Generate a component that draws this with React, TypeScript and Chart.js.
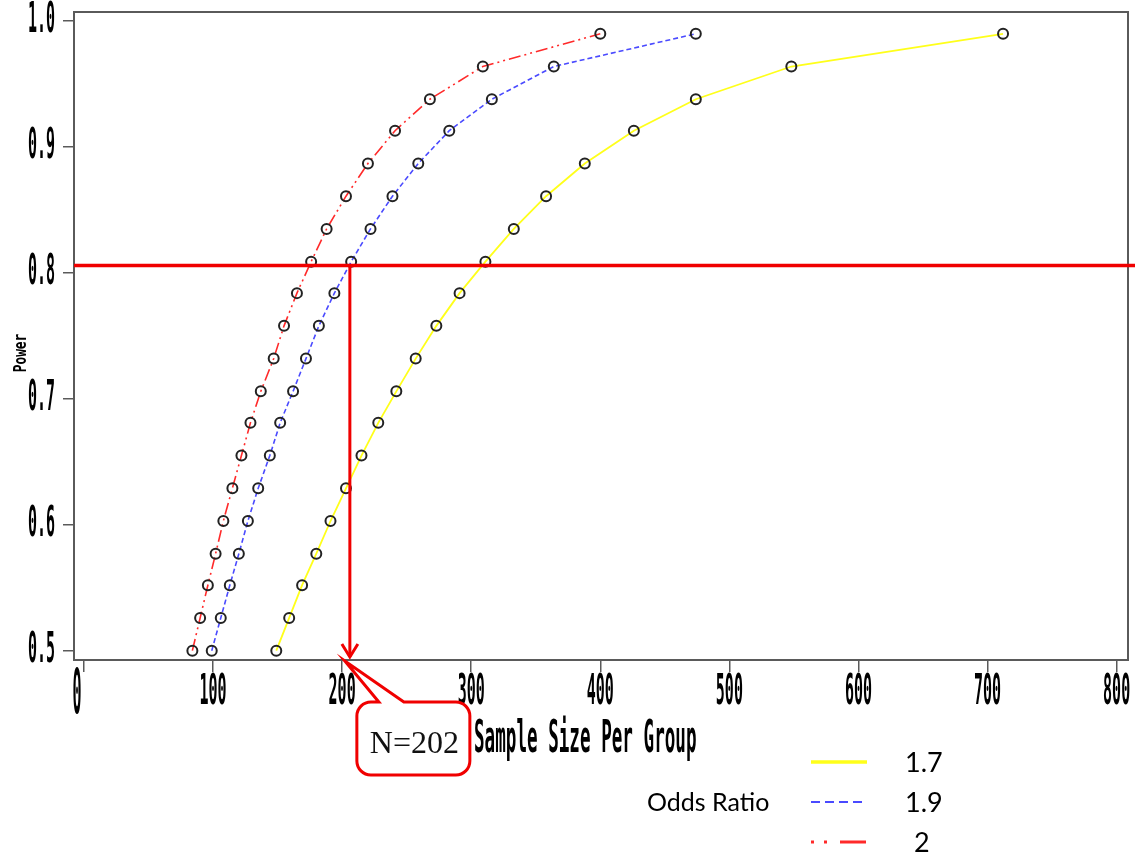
import React, { useEffect, useRef } from "react";
import { Chart, registerables } from "chart.js";

Chart.register(...registerables);

// ---- data ----
const POWER = [0.5, 0.526, 0.552, 0.577, 0.603, 0.629, 0.655, 0.681, 0.706, 0.732, 0.758, 0.784, 0.809, 0.835, 0.861, 0.887, 0.913, 0.938, 0.964, 0.99];
const N_OR_17 = [149, 159, 169, 180, 191, 203, 215, 228, 242, 257, 273, 291, 311, 333, 358, 388, 426, 474, 548, 712];
const N_OR_19 = [99, 106, 113, 120, 127, 135, 144, 152, 162, 172, 182, 194, 207, 222, 239, 259, 283, 316, 364, 474];
const N_OR_20 = [84, 90, 96, 102, 108, 115, 122, 129, 137, 147, 155, 165, 176, 188, 203, 220, 241, 268, 309, 400];
const ODDS_RATIOS = ["1.7", "1.9", "2"];

const X_TICKS = [0, 100, 200, 300, 400, 500, 600, 700, 800];
const X_TICK_LABELS = ["0", "100", "200", "300", "400", "500", "600", "700", "800"];
const Y_TICKS = [0.5, 0.6, 0.7, 0.8, 0.9, 1.0];
const Y_TICK_LABELS = ["0.5", "0.6", "0.7", "0.8", "0.9", "1.0"];

const REF_POWER = 0.806;
const REF_N = 206;
const REF_LABEL = "N=202";
const X_TITLE = "Sample Size Per Group";
const Y_TITLE = "Power";
const LEGEND_TITLE = "Odds Ratio";

const COLORS = ["#ffff1a", "#4a4aff", "#ff2a2a"];
const DASHES: number[][] = [[], [5, 3], [12, 4, 2, 4, 2, 4]];

const W = 1135;
const H = 862;

function condText(
  ctx: CanvasRenderingContext2D,
  text: string,
  x: number,
  y: number,
  size: number,
  sx: number,
  sy: number,
  align: CanvasTextAlign
) {
  ctx.save();
  ctx.translate(x, y);
  ctx.scale(sx, sy);
  ctx.font = `bold ${size}px "DejaVu Sans Mono"`;
  ctx.textAlign = align;
  ctx.textBaseline = "alphabetic";
  ctx.fillStyle = "#000";
  ctx.fillText(text, 0, 0);
  ctx.restore();
}

const decorPlugin = {
  id: "decor",
  beforeDatasetsDraw(chart: any) {
    const ctx: CanvasRenderingContext2D = chart.ctx;
    const { left, top, right, bottom } = chart.chartArea;
    ctx.save();
    ctx.strokeStyle = "#5a5a5a";
    ctx.lineWidth = 2;
    ctx.strokeRect(left, top, right - left, bottom - top);
    ctx.restore();
  },
  afterDraw(chart: any) {
    const ctx: CanvasRenderingContext2D = chart.ctx;
    const xs = chart.scales.x;
    const ys = chart.scales.y;
    const { left, bottom } = chart.chartArea;

    // tick labels
    Y_TICKS.forEach((v, i) => {
      const y = ys.getPixelForValue(v);
      condText(ctx, Y_TICK_LABELS[i], 55, y + 11, 30, 0.5, 1.4, "right");
    });
    X_TICKS.forEach((v, i) => {
      const x = xs.getPixelForValue(v);
      if (X_TICK_LABELS[i] === "0") {
        condText(ctx, X_TICK_LABELS[i], x - 7, 713, 30, 0.5, 2.1, "center");
      } else {
        condText(ctx, X_TICK_LABELS[i], x, 704, 30, 0.5, 1.4, "center");
      }
    });

    // axis titles
    condText(ctx, X_TITLE, 474, 752, 32, 0.55, 1.4, "left");
    ctx.save();
    ctx.translate(26, 353);
    ctx.rotate(-Math.PI / 2);
    ctx.scale(0.8, 1.15);
    ctx.font = 'bold 16px "DejaVu Sans Mono"';
    ctx.textAlign = "center";
    ctx.textBaseline = "alphabetic";
    ctx.fillStyle = "#000";
    ctx.fillText(Y_TITLE, 0, 0);
    ctx.restore();

    // reference lines
    const yr = ys.getPixelForValue(REF_POWER);
    const xr = xs.getPixelForValue(REF_N);
    ctx.save();
    ctx.strokeStyle = "#f00000";
    ctx.lineWidth = 3.5;
    ctx.beginPath();
    ctx.moveTo(left, yr);
    ctx.lineTo(W, yr);
    ctx.stroke();
    ctx.lineWidth = 3;
    ctx.beginPath();
    ctx.moveTo(xr, yr);
    ctx.lineTo(xr, bottom - 3);
    ctx.stroke();
    ctx.beginPath();
    ctx.moveTo(xr - 8, bottom - 16);
    ctx.lineTo(xr, bottom - 3);
    ctx.lineTo(xr + 8, bottom - 16);
    ctx.stroke();

    // callout
    const bl = xr + 7, br = xr + 120, bt = 702, bb = 775, r = 14;
    const tipX = xr - 5, tipY = bottom + 1;
    ctx.beginPath();
    ctx.moveTo(bl + r, bt);
    ctx.lineTo(xr + 29, bt);
    ctx.lineTo(tipX, tipY);
    ctx.lineTo(xr + 54, bt);
    ctx.lineTo(br - r, bt);
    ctx.arcTo(br, bt, br, bt + r, r);
    ctx.lineTo(br, bb - r);
    ctx.arcTo(br, bb, br - r, bb, r);
    ctx.lineTo(bl + r, bb);
    ctx.arcTo(bl, bb, bl, bb - r, r);
    ctx.lineTo(bl, bt + r);
    ctx.arcTo(bl, bt, bl + r, bt, r);
    ctx.closePath();
    ctx.fillStyle = "#fff";
    ctx.fill();
    ctx.lineWidth = 3;
    ctx.lineJoin = "miter";
    ctx.stroke();
    ctx.font = '32px "Liberation Serif"';
    ctx.fillStyle = "#111";
    ctx.textAlign = "left";
    ctx.textBaseline = "alphabetic";
    ctx.fillText(REF_LABEL, xr + 20, 753);
    ctx.restore();

    // legend
    ctx.save();
    ctx.fillStyle = "#000";
    ctx.font = '25px "Lato"';
    ctx.textAlign = "left";
    ctx.textBaseline = "middle";
    ctx.fillText(LEGEND_TITLE, 647, 803);
    const ly = [762, 802, 842];
    const legDash: number[][] = [[], [9, 5], [3, 10, 3, 13, 26]];
    const legW = [3.5, 2, 3];
    const labelX = [905, 905, 914];
    ly.forEach((y, i) => {
      ctx.strokeStyle = COLORS[i];
      ctx.lineWidth = legW[i];
      ctx.setLineDash(legDash[i]);
      ctx.beginPath();
      ctx.moveTo(811, y);
      ctx.lineTo(867, y);
      ctx.stroke();
      ctx.setLineDash([]);
      ctx.font = '27px "Lato"';
      ctx.fillText(ODDS_RATIOS[i], labelX[i], y + 1);
    });
    ctx.restore();
  },
};

export default function App() {
  const ref = useRef<HTMLCanvasElement | null>(null);

  useEffect(() => {
    if (!ref.current) return;
    const series = [N_OR_17, N_OR_19, N_OR_20];
    const chart = new Chart(ref.current, {
      type: "line",
      data: {
        datasets: series.map((ns, i) => ({
          label: ODDS_RATIOS[i],
          data: ns.map((n, k) => ({ x: n, y: POWER[k] })),
          borderColor: COLORS[i],
          borderWidth: i === 0 ? 1.8 : 1.6,
          borderDash: DASHES[i],
          fill: false,
          tension: 0,
          pointRadius: 5,
          pointStyle: "circle",
          pointBorderColor: "#222",
          pointBackgroundColor: "rgba(0,0,0,0)",
          pointBorderWidth: 2,
        })),
      },
      options: {
        animation: false,
        responsive: false,
        devicePixelRatio: 1,
        layout: { padding: { top: 12, right: 6, left: 0, bottom: 0 } },
        plugins: { legend: { display: false }, tooltip: { enabled: false } },
        scales: {
          x: {
            type: "linear",
            min: -7.7,
            max: 808.8,
            afterFit: (s: any) => {
              s.height = 202;
            },
            afterBuildTicks: (s: any) => {
              s.ticks = X_TICKS.map((v) => ({ value: v }));
            },
            ticks: { display: false },
            grid: { drawOnChartArea: false, drawTicks: true, tickLength: 12, color: "#5a5a5a", lineWidth: 1.5 },
            border: { display: true, color: "#5a5a5a", width: 2 },
          },
          y: {
            type: "linear",
            min: 0.4926,
            max: 1.0073,
            afterFit: (s: any) => {
              s.width = 74;
            },
            afterBuildTicks: (s: any) => {
              s.ticks = Y_TICKS.map((v) => ({ value: v }));
            },
            ticks: { display: false },
            grid: { drawOnChartArea: false, drawTicks: true, tickLength: 11, color: "#5a5a5a", lineWidth: 1.5 },
            border: { display: true, color: "#5a5a5a", width: 2 },
          },
        },
      },
      plugins: [decorPlugin],
    } as any);
    return () => chart.destroy();
  }, []);

  return (
    <div style={{ position: "absolute", left: 0, top: 0, width: W, height: H, background: "#fff" }}>
      <canvas ref={ref} width={W} height={H} style={{ width: W, height: H, display: "block" }} />
    </div>
  );
}
